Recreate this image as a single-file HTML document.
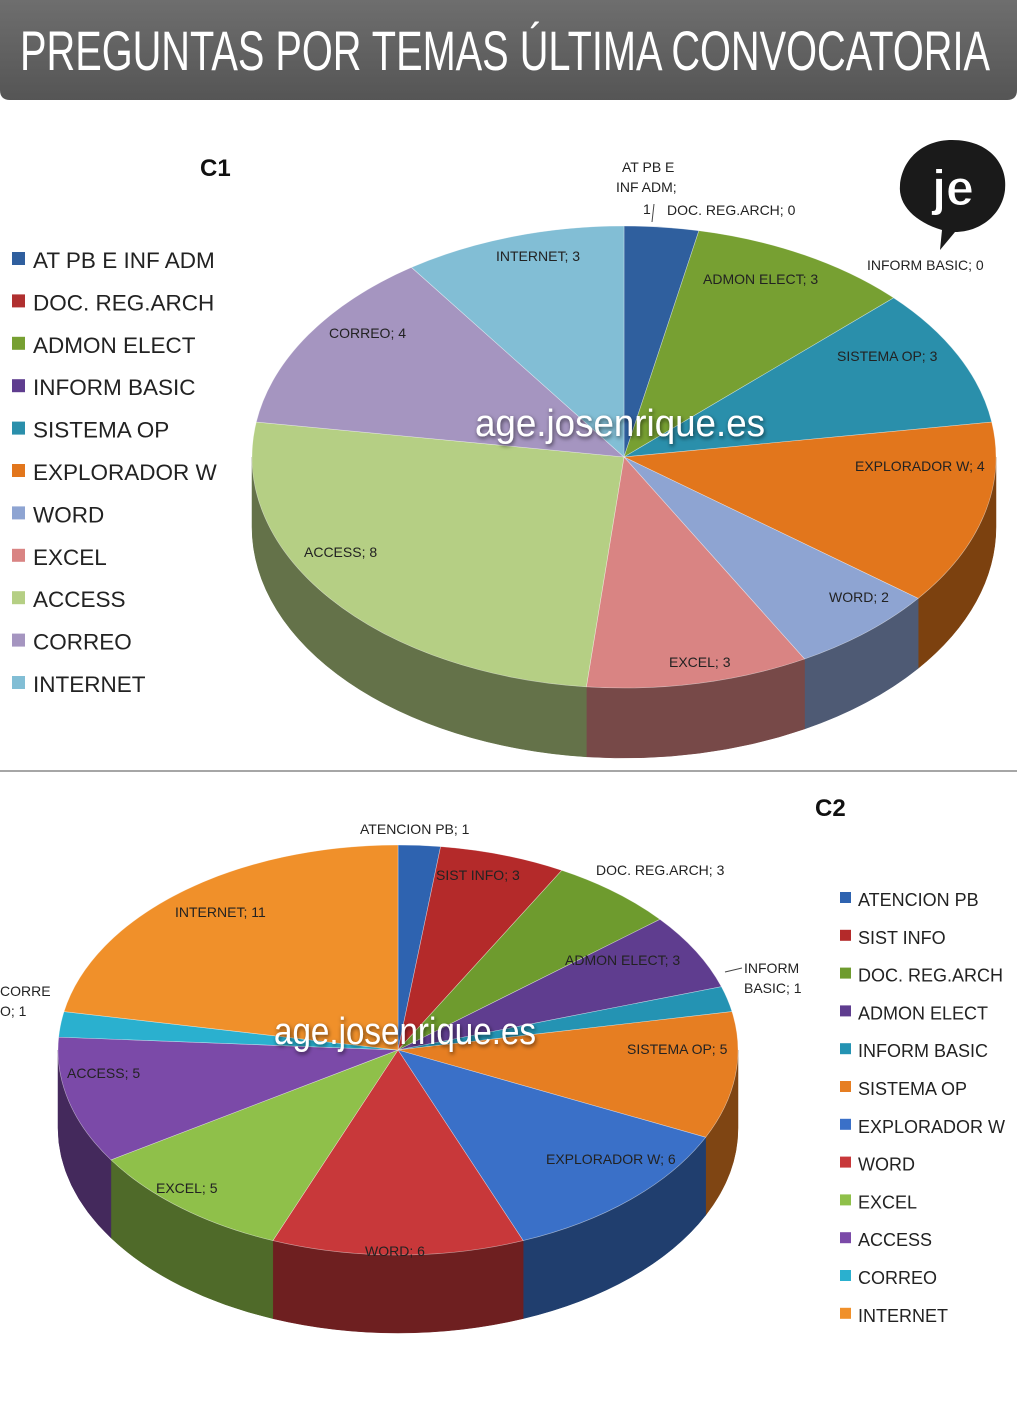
<!DOCTYPE html>
<html><head><meta charset="utf-8">
<style>
html,body{margin:0;padding:0;background:#fff;}
svg{display:block;}
text{font-family:"Liberation Sans",sans-serif;}
</style></head>
<body>
<svg id="s" width="1017" height="1424" viewBox="0 0 1017 1424" xmlns="http://www.w3.org/2000/svg">
<defs>
<linearGradient id="hg" x1="0" y1="0" x2="0" y2="1">
<stop offset="0" stop-color="#6e6e6e"/><stop offset="1" stop-color="#555"/>
</linearGradient>
<filter id="sh" x="-10%" y="-30%" width="120%" height="160%"><feDropShadow dx="1" dy="2" stdDeviation="2" flood-color="#000" flood-opacity="0.6"/></filter>
</defs>
<path d="M0 0 H1017 V90 Q1017 100 1007 100 H10 Q0 100 0 90 Z" fill="url(#hg)"/>
<text x="20" y="70" font-size="56" fill="#fff" textLength="970" lengthAdjust="spacingAndGlyphs">PREGUNTAS POR TEMAS ÚLTIMA CONVOCATORIA</text>
<line x1="0" y1="771" x2="1017" y2="771" stroke="#888" stroke-width="1.5"/>
<g id="p1"></g>
<g id="p2"></g>
<text x="200" y="176" font-size="24" font-weight="bold" fill="#111">C1</text>
<text x="815" y="816" font-size="24" font-weight="bold" fill="#111">C2</text>
<g>
<path d="M952 140 C990 140 1008 165 1005 190 C1002 215 980 232 955 232 L940 250 L942 230 C915 222 898 205 900 185 C902 160 922 140 952 140 Z" fill="#1a1a1a"/>
<text x="953" y="205" font-size="50" fill="#fff" text-anchor="middle" font-weight="bold" stroke="#1a1a1a" stroke-width="1">je</text>
</g>
<g id="leg"></g>
<g id="lab" font-size="14" fill="#222"></g>
<text x="620" y="436" font-size="38" fill="#fff" text-anchor="middle" filter="url(#sh)" textLength="290" lengthAdjust="spacingAndGlyphs">age.josenrique.es</text>
<text x="405" y="1044" font-size="38" fill="#fff" text-anchor="middle" filter="url(#sh)" textLength="262" lengthAdjust="spacingAndGlyphs">age.josenrique.es</text>
</svg>
<script>
const NS="http://www.w3.org/2000/svg";
function el(p,tag,attrs,txt){const e=document.createElementNS(NS,tag);for(const k in attrs)e.setAttribute(k,attrs[k]);if(txt!=null)e.textContent=txt;p.appendChild(e);return e;}
function shade(hex,f){let n=parseInt(hex.slice(1),16);let r=(n>>16)&255,g=(n>>8)&255,b=n&255;r=Math.round(r*f);g=Math.round(g*f);b=Math.round(b*f);return`rgb(${r},${g},${b})`;}
function pie(g,cx,cy,rx,ry,d,vals,cols){
 const tot=vals.reduce((a,b)=>a+b,0);
 const P=(t,dy=0)=>[cx+rx*Math.sin(t),cy-ry*Math.cos(t)+dy];
 let a=0;const segs=[];
 vals.forEach((v,i)=>{const b=a+v/tot*2*Math.PI;segs.push([a,b,cols[i]]);a=b;});
 segs.forEach(([t1,t2,c])=>{
  const s=Math.max(t1,Math.PI/2),e=Math.min(t2,1.5*Math.PI);
  if(e<=s)return;
  const p1=P(s),p2=P(e),q2=P(e,d),q1=P(s,d);
  const lg=(e-s)>Math.PI?1:0;
  el(g,'path',{d:`M${p1} A${rx} ${ry} 0 ${lg} 1 ${p2} L${q2} A${rx} ${ry} 0 ${lg} 0 ${q1} Z`,fill:shade(c,0.55),stroke:shade(c,0.55),'stroke-width':0.5});
 });
 segs.forEach(([t1,t2,c])=>{
  if(t2-t1<1e-6)return;
  const p1=P(t1),p2=P(t2);const lg=(t2-t1)>Math.PI?1:0;
  el(g,'path',{d:`M${cx},${cy} L${p1} A${rx} ${ry} 0 ${lg} 1 ${p2} Z`,fill:c,stroke:'#fff','stroke-width':0.6,'stroke-opacity':0.5});
 });
}
pie(document.getElementById('p1'),624,457,372,231,70,
 [1,0,3,0,3,4,2,3,8,4,3],
 ['#2f5f9e','#b03030','#77a032','#5f3d8f','#2a8fab','#e2761c','#8ea4d2','#d98483','#b5cf84','#a595c0','#82bed5']);
pie(document.getElementById('p2'),398,1050,340,205,78,
 [1,3,3,3,1,5,6,6,5,5,1,11],
 ['#2e63b0','#b42a2a','#6e9b2e','#5f3d8f','#2493b3','#e67e22','#3a70c8','#c8383a','#8fc04a','#7b4aa8','#2ab0cf','#f0902a']);
const lg=document.getElementById('leg');
const L1=[['AT PB E INF ADM','#2f5f9e'],['DOC. REG.ARCH','#b03030'],['ADMON ELECT','#77a032'],['INFORM BASIC','#5f3d8f'],['SISTEMA OP','#2a8fab'],['EXPLORADOR W','#e2761c'],['WORD','#8ea4d2'],['EXCEL','#d98483'],['ACCESS','#b5cf84'],['CORREO','#a595c0'],['INTERNET','#82bed5']];
L1.forEach(([t,c],i)=>{const y=260+i*42.4;el(lg,'rect',{x:12,y:y-8,width:13,height:13,fill:c});el(lg,'text',{x:33,y:y+8,'font-size':22.5,fill:'#222'},t);});
const L2=[['ATENCION PB','#2e63b0'],['SIST INFO','#b42a2a'],['DOC. REG.ARCH','#6e9b2e'],['ADMON ELECT','#5f3d8f'],['INFORM BASIC','#2493b3'],['SISTEMA OP','#e67e22'],['EXPLORADOR W','#3a70c8'],['WORD','#c8383a'],['EXCEL','#8fc04a'],['ACCESS','#7b4aa8'],['CORREO','#2ab0cf'],['INTERNET','#f0902a']];
L2.forEach(([t,c],i)=>{const y=899+i*37.8;el(lg,'rect',{x:840,y:y-7,width:11,height:11,fill:c});el(lg,'text',{x:858,y:y+7,'font-size':18,fill:'#222'},t);});
const lb=document.getElementById('lab');
[[622,172,'AT PB E'],[616,192,'INF ADM;'],[643,214,'1'],[667,215,'DOC. REG.ARCH; 0'],[496,261,'INTERNET; 3'],[703,284,'ADMON ELECT; 3'],[867,270,'INFORM BASIC; 0'],[329,338,'CORREO; 4'],[837,361,'SISTEMA OP; 3'],[855,471,'EXPLORADOR W; 4'],[304,557,'ACCESS; 8'],[829,602,'WORD; 2'],[669,667,'EXCEL; 3'],
[360,834,'ATENCION PB; 1'],[436,880,'SIST INFO; 3'],[596,875,'DOC. REG.ARCH; 3'],[175,917,'INTERNET; 11'],[565,965,'ADMON ELECT; 3'],[744,973,'INFORM'],[744,993,'BASIC; 1'],[0,996,'CORRE'],[0,1016,'O; 1'],[627,1054,'SISTEMA OP; 5'],[67,1078,'ACCESS; 5'],[546,1164,'EXPLORADOR W; 6'],[156,1193,'EXCEL; 5'],[365,1256,'WORD; 6']
].forEach(([x,y,t])=>el(lb,'text',{x:x,y:y},t));
el(lb,'path',{d:'M654 204 L652 222 M742 968 L725 972',stroke:'#444',fill:'none','stroke-width':1});
</script>
</body></html>
